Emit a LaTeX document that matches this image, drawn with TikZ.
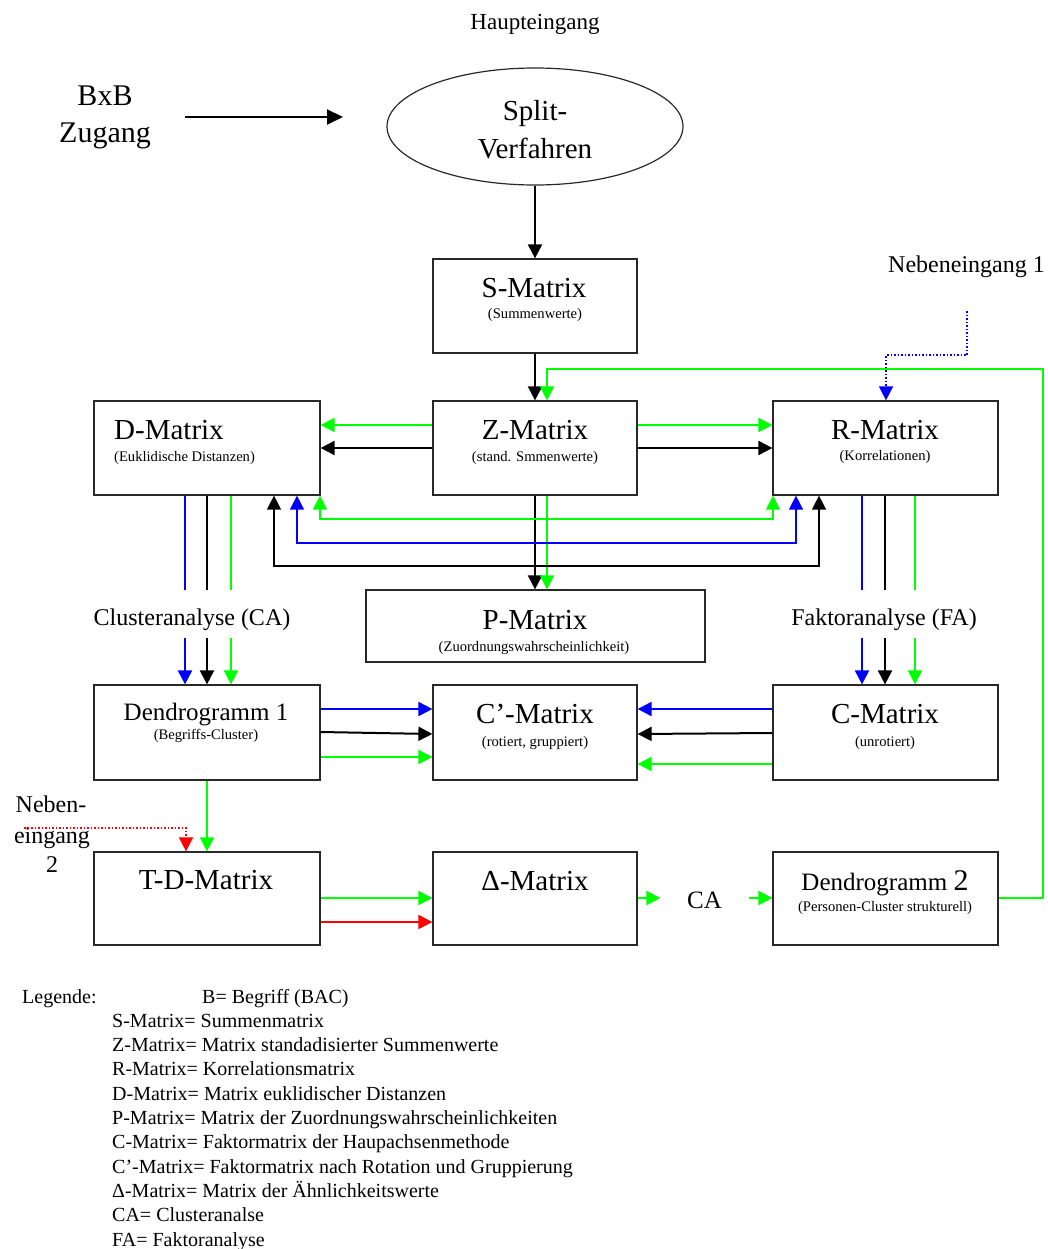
\documentclass[tikz,border=0pt]{standalone}
\usepackage{fontspec}
\setmainfont{Liberation Serif}
\usetikzlibrary{arrows.meta,shapes.geometric}
\definecolor{lgreen}{RGB}{0,255,0}
\definecolor{lblue}{RGB}{0,0,255}
\definecolor{lred}{RGB}{255,0,0}
\definecolor{frame}{RGB}{40,40,40}
\tikzset{
  box/.style={draw=frame, line width=1.2pt, inner sep=0pt},
  mtitle/.style={font=\fontsize{29}{34}\selectfont, inner sep=0pt, anchor=base},
  dtitle/.style={font=\fontsize{25}{30}\selectfont, inner sep=0pt, anchor=base},
  msub/.style={font=\fontsize{14.6}{17}\selectfont, inner sep=0pt, anchor=base},
  lbl/.style={font=\fontsize{24}{28}\selectfont, inner sep=0pt, anchor=base},
  legtext/.style={font=\fontsize{20}{24}\selectfont, inner sep=0pt, anchor=base west},
  tipA/.tip={Triangle[length=14pt,width=14pt]},
  arr/.style={line width=2pt, -tipA},
  biarr/.style={line width=1.4pt, tipA-tipA},
  seg/.style={line width=2pt},
  dotarr/.style={line width=1.5pt, dotted, -tipA},
}
\begin{document}
\begin{tikzpicture}[x=1pt,y=-1pt]
\useasboundingbox (0,0) rectangle (1047,1249);

% ---------- entry ----------
\node[font=\fontsize{23}{27}\selectfont, inner sep=0pt, anchor=base] (haupt) at (535,30) {Haupteingang};
\node[font=\fontsize{30}{34}\selectfont, inner sep=0pt, anchor=base] (bxb1) at (105,106) {BxB};
\node[font=\fontsize{30}{34}\selectfont, inner sep=0pt, anchor=base] (bxb2) at (105,143) {Zugang};
\node[draw=frame, line width=1.2pt, ellipse, minimum width=296pt, minimum height=117pt, inner sep=0pt] (split) at (535,126.5) {};
\node[mtitle] (split1) at (535,121) {Split-};
\node[mtitle] (split2) at (535,159) {Verfahren};
\coordinate (bxbA) at (185,117);
\coordinate (bxbB) at (343,117);
\draw[line width=2pt, -{Triangle[length=16pt,width=15pt]}] (bxbA) -- (bxbB);

% ---------- boxes ----------
\node[box, minimum width=204pt, minimum height=94pt] (S) at (535,306) {};
\node[mtitle] (St) at (534,297) {S-Matrix};
\node[msub] (Ss) at (535,318) {(Summenwerte)};

\node[box, minimum width=226pt, minimum height=94pt] (D) at (207,448) {};
\node[mtitle, anchor=base west] (Dt) at (114,439) {D-Matrix};
\node[msub, anchor=base west] (Ds) at (114,461) {(Euklidische Distanzen)};

\node[box, minimum width=204pt, minimum height=94pt] (Z) at (535,448) {};
\node[mtitle] (Zt) at (535,439) {Z-Matrix};
\node[msub] (Zs) at (535,461) {(stand. Smmenwerte)};

\node[box, minimum width=225pt, minimum height=94pt] (R) at (885.5,448) {};
\node[mtitle] (Rt) at (885,439) {R-Matrix};
\node[msub] (Rs) at (885,460) {(Korrelationen)};

\node[box, minimum width=339pt, minimum height=72pt] (P) at (535.5,626) {};
\node[mtitle] (Pt) at (535,629) {P-Matrix};
\node[msub] (Ps) at (534,651) {(Zuordnungswahrscheinlichkeit)};

\node[box, minimum width=226pt, minimum height=95pt] (Dn1) at (207,732.5) {};
\node[dtitle] (Dn1t) at (206,720) {Dendrogramm 1};
\node[msub] (Dn1s) at (206,739) {(Begriffs-Cluster)};

\node[box, minimum width=204pt, minimum height=95pt] (Cp) at (535,732.5) {};
\node[mtitle] (Cpt) at (535,723) {C’-Matrix};
\node[msub] (Cps) at (535,746) {(rotiert, gruppiert)};

\node[box, minimum width=225pt, minimum height=95pt] (C) at (885.5,732.5) {};
\node[mtitle] (Ct) at (885,723) {C-Matrix};
\node[msub] (Cs) at (885,746) {(unrotiert)};

\node[box, minimum width=226pt, minimum height=93pt] (TD) at (207,898.5) {};
\node[mtitle] (TDt) at (206,889) {T-D-Matrix};

\node[box, minimum width=204pt, minimum height=93pt] (Dl) at (535,898.5) {};
\node[mtitle] (Dlt) at (535,890) {Δ-Matrix};

\node[box, minimum width=225pt, minimum height=93pt] (Dn2) at (885.5,898.5) {};
\node[dtitle] (Dn2t) at (885,890) {Dendrogramm {\fontsize{30}{34}\selectfont 2}};
\node[msub] (Dn2s) at (885,911) {(Personen-Cluster strukturell)};

% ---------- labels ----------
\node[lbl] (CAlbl) at (192,625) {Clusteranalyse (CA)};
\node[lbl] (FAlbl) at (884,625) {Faktoranalyse (FA)};
\node[lbl, font=\fontsize{25}{30}\selectfont, inner xsep=26.5pt] (CA2) at (704.5,908) {CA};
\node[lbl, anchor=base east] (neb1) at (1045,272) {Nebeneingang 1};
\node[lbl] (neb2a) at (51,812) {Neben-};
\node[lbl] (neb2b) at (52,843) {eingang};
\node[lbl] (neb2c) at (52,872) {2};

\coordinate (gapT) at (0,590);
\coordinate (gapB) at (0,638);

% ---------- connectors ----------
\draw[arr] (split.south) -- (S.north);
\draw[arr] (S.south) -- (Z.north);

% Z -> D and Z -> R
\draw[arr, lgreen] (Z.west |- 0,425) -- (D.east |- 0,425);
\draw[arr] (Z.west |- 0,448) -- (D.east |- 0,448);
\draw[arr, lgreen] (Z.east |- 0,425) -- (R.west |- 0,425);
\draw[arr] (Z.east |- 0,448) -- (R.west |- 0,448);

% Z -> P
\draw[arr] (Z.south) -- (P.north -| Z.south);
\draw[arr, lgreen] (Z.south -| 547,0) -- (P.north -| 547,0);

% D <-> R loops
\draw[biarr, lgreen] (D.south -| 320,0) -- (320,519) -- (773,519) -- (R.south -| 773,0);
\draw[biarr, lblue] (D.south -| 297,0) -- (297,543) -- (796,543) -- (R.south -| 796,0);
\draw[biarr] (D.south -| 274,0) -- (274,566) -- (819,566) -- (R.south -| 819,0);

% D -> Dendrogramm 1 (cluster analysis)
\draw[seg, lblue] (D.south -| 185,0) -- (gapT -| 185,0);
\draw[seg] (D.south -| 207,0) -- (gapT -| 207,0);
\draw[seg, lgreen] (D.south -| 231,0) -- (gapT -| 231,0);
\draw[arr, lblue] (gapB -| 185,0) -- (Dn1.north -| 185,0);
\draw[arr] (gapB -| 207,0) -- (Dn1.north -| 207,0);
\draw[arr, lgreen] (gapB -| 231,0) -- (Dn1.north -| 231,0);

% R -> C (factor analysis)
\draw[seg, lblue] (R.south -| 862,0) -- (gapT -| 862,0);
\draw[seg] (R.south -| 885,0) -- (gapT -| 885,0);
\draw[seg, lgreen] (R.south -| 915,0) -- (gapT -| 915,0);
\draw[arr, lblue] (gapB -| 862,0) -- (C.north -| 862,0);
\draw[arr] (gapB -| 885,0) -- (C.north -| 885,0);
\draw[arr, lgreen] (gapB -| 915,0) -- (C.north -| 915,0);

% Dendrogramm 1 -> C'
\draw[arr, lblue] (Dn1.east |- 0,709) -- (Cp.west |- 0,709);
\draw[arr] (Dn1.east |- 0,732) -- (Cp.west |- 0,734);
\draw[arr, lgreen] (Dn1.east |- 0,757) -- (Cp.west |- 0,757);

% C -> C'
\draw[arr, lblue] (C.west |- 0,709) -- (Cp.east |- 0,709);
\draw[arr] (C.west |- 0,733) -- (Cp.east |- 0,734);
\draw[arr, lgreen] (C.west |- 0,764) -- (Cp.east |- 0,764);

% Dendrogramm 1 -> T-D
\draw[arr, lgreen] (Dn1.south) -- (TD.north);
\coordinate (neb2s) at (24,828);
\draw[dotarr, lred] (neb2s) -| (TD.north -| 186,0);

% T-D -> Delta
\draw[arr, lgreen] (TD.east |- 0,898) -- (Dl.west |- 0,898);
\draw[arr, lred] (TD.east |- 0,922) -- (Dl.west |- 0,922);

% Delta -> CA -> Dendrogramm 2
\draw[arr, lgreen] (Dl.east |- 0,898) -- (CA2.west |- 0,898);
\draw[arr, lgreen] (CA2.east |- 0,898) -- (Dn2.west |- 0,898);

% Dendrogramm 2 back to Z
\coordinate (back) at (1043,369);
\draw[arr, lgreen] (Dn2.east |- 0,898) -| (back) -| (Z.north -| 547,0);

% Nebeneingang 1
\coordinate (neb1s) at (967,311);
\coordinate (neb1k) at (967,355);
\draw[dotarr, lblue] (neb1s) -- (neb1k) -| (R.north -| 886,0);

% ---------- legend ----------
\node[legtext] (lg0) at (22,1003) {Legende:};
\node[legtext] (lg1) at (202,1003) {B= Begriff (BAC)};
\node[legtext] (lg2) at (112,1027.3) {S-Matrix= Summenmatrix};
\node[legtext] (lg3) at (112,1051.6) {Z-Matrix= Matrix standadisierter Summenwerte};
\node[legtext] (lg4) at (112,1075.9) {R-Matrix= Korrelationsmatrix};
\node[legtext] (lg5) at (112,1100.2) {D-Matrix= Matrix euklidischer Distanzen};
\node[legtext] (lg6) at (112,1124.5) {P-Matrix= Matrix der Zuordnungswahrscheinlichkeiten};
\node[legtext] (lg7) at (112,1148.8) {C-Matrix= Faktormatrix der Haupachsenmethode};
\node[legtext] (lg8) at (112,1173.1) {C’-Matrix= Faktormatrix nach Rotation und Gruppierung};
\node[legtext] (lg9) at (112,1197.4) {Δ-Matrix= Matrix der Ähnlichkeitswerte};
\node[legtext] (lg10) at (112,1221.7) {CA= Clusteranalse};
\node[legtext] (lg11) at (112,1246) {FA= Faktoranalyse};
\end{tikzpicture}
\end{document}
